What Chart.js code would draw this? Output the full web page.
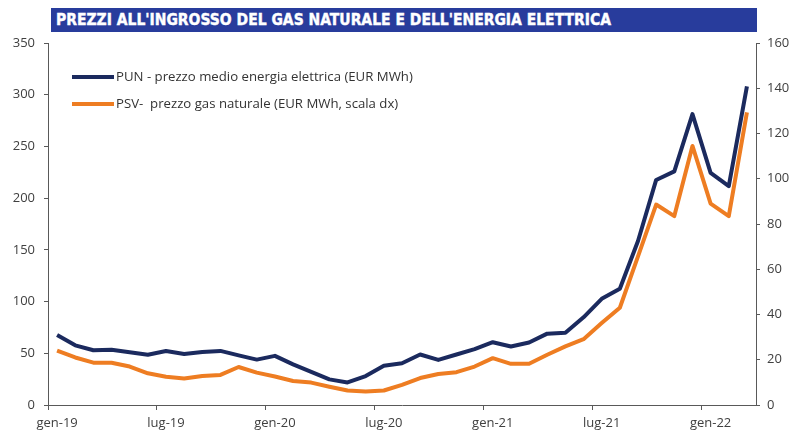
<!DOCTYPE html>
<html>
<head>
<meta charset="utf-8">
<script src="https://cdn.jsdelivr.net/npm/chart.js@4"></script>
<style>
  body { margin: 0; background: #fff; }
  #wrap { position: relative; width: 793px; height: 432px; }
  #title {
    position: absolute; left: 51px; top: 8px; width: 701px; height: 24px;
    padding-left: 5px; background: #283c9c; color: #fff;
    font: bold 15.5px "Liberation Sans Narrow", "DejaVu Sans Condensed", sans-serif;
    -webkit-text-stroke: 0.4px #fff;
    line-height: 24px; white-space: nowrap;
  }
  canvas { position: absolute; left: 0; top: 0; }
</style>
</head>
<body>
<div id="wrap">
  <canvas id="chart" width="793" height="432"></canvas>
  <div id="title">PREZZI ALL'INGROSSO DEL GAS NATURALE E DELL'ENERGIA ELETTRICA</div>
</div>
<script>
/* ── Data ── */
const months = [
  'gen-19','feb-19','mar-19','apr-19','mag-19','giu-19','lug-19','ago-19','set-19','ott-19','nov-19','dic-19',
  'gen-20','feb-20','mar-20','apr-20','mag-20','giu-20','lug-20','ago-20','set-20','ott-20','nov-20','dic-20',
  'gen-21','feb-21','mar-21','apr-21','mag-21','giu-21','lug-21','ago-21','set-21','ott-21','nov-21','dic-21',
  'gen-22','feb-22','mar-22'
];
// PUN, EUR/MWh (left axis)
const pun = [
  67.6, 57.7, 52.9, 53.4, 50.9, 48.6, 52.2, 49.4, 51.2, 52.3, 48.0, 43.9,
  47.5, 39.3, 32.0, 24.8, 21.8, 28.0, 38.0, 40.3, 48.8, 43.6, 48.8, 54.0,
  60.7, 56.6, 60.4, 69.0, 69.9, 84.8, 102.7, 112.4, 158.6, 217.6, 225.9, 281.2,
  224.5, 211.7, 308.1
];
// PSV, EUR/MWh (right axis)
const psv = [
  24.0, 21.0, 18.7, 18.7, 17.0, 14.0, 12.5, 11.7, 12.8, 13.3, 16.8, 14.3,
  12.6, 10.6, 9.9, 8.1, 6.4, 6.0, 6.4, 8.9, 11.9, 13.7, 14.5, 17.0,
  20.7, 18.2, 18.2, 22.2, 25.9, 29.1, 36.2, 43.0, 65.7, 88.6, 83.5, 114.5,
  89.0, 83.5, 129.3
];
const leftTicks = { min: 0, max: 350, step: 50 };
const rightTicks = { min: 0, max: 160, step: 20 };
const labelEvery = 6;

const axisColor = '#595959';
const textColor = '#404040';
const tickFont = { family: 'Open Sans', size: 13 };

/* ── Legend drawn inside the plot area ── */
const innerLegend = {
  id: 'innerLegend',
  afterDraw(chart) {
    const ctx = chart.ctx;
    ctx.save();
    ctx.font = '13.2px "Open Sans"';
    ctx.textBaseline = 'middle';
    chart.data.datasets.forEach((ds, i) => {
      const y = 77 + i * 27;
      ctx.strokeStyle = ds.borderColor;
      ctx.lineWidth = 4;
      ctx.beginPath();
      ctx.moveTo(72, y);
      ctx.lineTo(114, y);
      ctx.stroke();
      ctx.fillStyle = '#333';
      ctx.fillText(ds.label, 116, y);
    });
    ctx.restore();
  }
};

new Chart(document.getElementById('chart'), {
  type: 'line',
  data: {
    labels: months,
    datasets: [
      {
        label: 'PUN - prezzo medio energia elettrica (EUR MWh)',
        data: pun,
        yAxisID: 'y',
        borderColor: '#1b2a5e',
        borderWidth: 4,
        pointRadius: 0,
        tension: 0,
        borderJoinStyle: 'round'
      },
      {
        label: 'PSV-  prezzo gas naturale (EUR MWh, scala dx)',
        data: psv,
        yAxisID: 'y1',
        borderColor: '#ee7d22',
        borderWidth: 4,
        pointRadius: 0,
        tension: 0,
        borderJoinStyle: 'round'
      }
    ]
  },
  options: {
    responsive: false,
    animation: false,
    layout: { padding: { top: 43, left: 0, right: 0, bottom: 0 } },
    plugins: { legend: { display: false }, tooltip: { enabled: false } },
    scales: {
      x: {
        offset: true,
        grid: {
          offset: true, drawOnChartArea: false, tickLength: 5,
          tickColor: c => (c.index % labelEvery === 0 ? axisColor : 'rgba(0,0,0,0)')
        },
        border: { color: axisColor, width: 1 },
        ticks: {
          autoSkip: false, maxRotation: 0, padding: 5,
          color: textColor, font: tickFont,
          callback: (v, i) => (i % labelEvery === 0 ? months[i] : '')
        },
        afterFit: s => { s.height = 27; }
      },
      y: {
        position: 'left',
        min: leftTicks.min, max: leftTicks.max,
        grid: { drawOnChartArea: false, tickLength: 4, tickColor: axisColor },
        border: { color: axisColor, width: 1 },
        ticks: { stepSize: leftTicks.step, padding: 9, color: textColor, font: tickFont },
        afterFit: s => { s.width = 48; }
      },
      y1: {
        position: 'right',
        min: rightTicks.min, max: rightTicks.max,
        grid: { drawOnChartArea: false, tickLength: 4, tickColor: axisColor },
        border: { color: axisColor, width: 1 },
        ticks: { stepSize: rightTicks.step, padding: 7, color: textColor, font: tickFont },
        afterFit: s => { s.width = 37; }
      }
    }
  },
  plugins: [innerLegend]
});
</script>
</body>
</html>
